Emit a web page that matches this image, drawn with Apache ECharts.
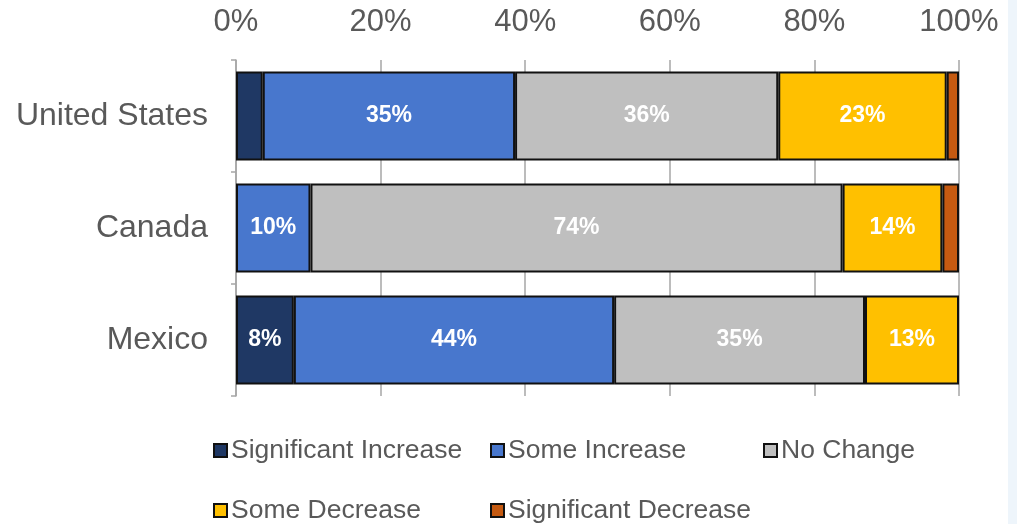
<!DOCTYPE html>
<html>
<head>
<meta charset="utf-8">
<script src="https://cdn.jsdelivr.net/npm/echarts@6/dist/echarts.min.js"></script>
<style>
html,body{margin:0;padding:0;background:#fff;}
#chart{width:1017px;height:524px;}
</style>
</head>
<body>
<div id="chart"></div>
<script>
const categories = ['United States', 'Canada', 'Mexico'];
const seriesNames = ['Significant Increase', 'Some Increase', 'No Change', 'Some Decrease', 'Significant Decrease'];
const significantIncrease = [3.7, 0, 8.0];
const someIncrease = [34.9, 10.3, 44.3];
const noChange = [36.4, 73.6, 34.7];
const someDecrease = [23.3, 13.8, 13.0];
const significantDecrease = [1.7, 2.3, 0];
const xTicks = [0, 20, 40, 60, 80, 100];

const values = [significantIncrease, someIncrease, noChange, someDecrease, significantDecrease];
const colors = ['#1f3864', '#4877cd', '#bfbfbf', '#ffc000', '#c55a11'];
const font = "'Liberation Sans', Arial, sans-serif";

const chart = echarts.init(document.getElementById('chart'), null, {renderer: 'canvas'});

const series = seriesNames.map((name, i) => ({
  name: name,
  type: 'bar',
  stack: 'total',
  barWidth: '79.5%',
  data: values[i].map(v => v === 0 ? '-' : v),
  itemStyle: {color: colors[i], borderColor: '#111', borderWidth: 2},
  label: {
    show: true,
    position: 'inside',
    color: '#fff',
    fontFamily: font,
    fontWeight: 'bold',
    fontSize: 23,
    formatter: p => p.value >= 5 ? Math.round(p.value) + '%' : ''
  },
  emphasis: {disabled: true}
}));

const legendPos = [
  {left: 213, top: 437},
  {left: 490, top: 437},
  {left: 763, top: 437},
  {left: 213, top: 497},
  {left: 490, top: 497}
];
const legends = seriesNames.map((name, i) => ({
  data: [{name: name, icon: 'rect'}],
  left: legendPos[i].left,
  top: legendPos[i].top,
  padding: 0,
  itemWidth: 13,
  itemHeight: 13,
  itemGap: 0,
  selectedMode: false,
  textStyle: {fontFamily: font, fontSize: 26.5, color: '#595959', padding: [0, 0, 0, -1]}
}));

chart.setOption({
  animation: false,
  backgroundColor: '#fff',
  textStyle: {fontFamily: font},
  grid: {left: 236, right: 58, top: 60, bottom: 128, containLabel: false},
  xAxis: {
    type: 'value',
    position: 'top',
    min: xTicks[0],
    max: xTicks[xTicks.length - 1],
    interval: xTicks[1] - xTicks[0],
    axisLine: {show: false},
    axisTick: {show: false},
    axisLabel: {formatter: '{value}%', fontSize: 31, color: '#595959', fontFamily: font, margin: 22},
    splitLine: {show: true, lineStyle: {color: '#a6a6a6', width: 1.5}}
  },
  yAxis: {
    type: 'category',
    data: categories,
    inverse: true,
    axisLine: {show: true, lineStyle: {color: '#a6a6a6', width: 1.5}},
    axisTick: {show: true, length: 5, lineStyle: {color: '#a6a6a6', width: 1.5}},
    axisLabel: {fontSize: 32, color: '#595959', fontFamily: font, margin: 28}
  },
  legend: legends,
  graphic: [{
    type: 'rect',
    shape: {x: 1008, y: 0, width: 9, height: 524},
    style: {fill: '#eef5fb'},
    silent: true
  }],
  series: series
});
</script>
</body>
</html>
